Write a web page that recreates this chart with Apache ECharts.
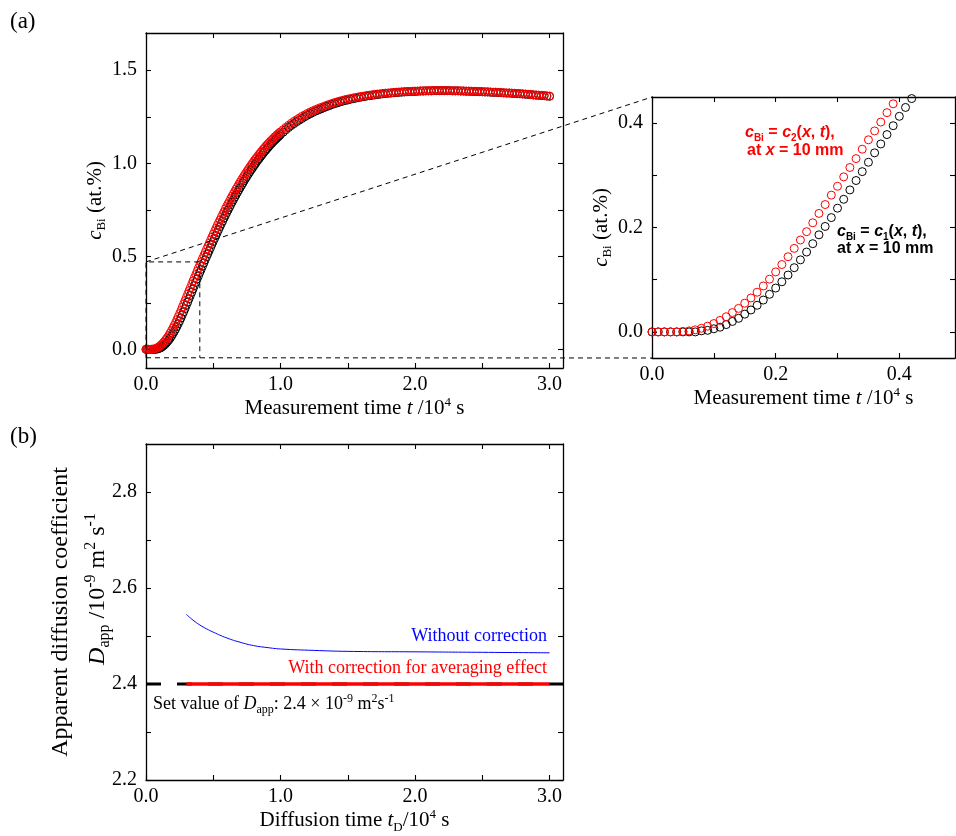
<!DOCTYPE html>
<html>
<head>
    <meta charset="UTF-8"/>
    <title>c_Bi and D_app</title>
    <script src="https://cdn.jsdelivr.net/npm/echarts@6.0.0/dist/echarts.min.js"></script>
    <style>
        html, body { margin: 0; padding: 0; background: #fff; }
        #chart { width: 956px; height: 836px; }
    </style>
</head>
<body>
<div id="chart"></div>
<script>
    // measurement time grid (10^4 s): 0.01 steps up to 1.0, then 0.02 steps
    function steps(a, b, d) {
        var out = [];
        for (var k = 0; a + k * d <= b + 1e-9; k++) out.push(+(a + k * d).toFixed(2));
        return out;
    }
    var tMeas = steps(0, 1.0, 0.01).concat(steps(1.02, 3.0, 0.02));

    // c_Bi = c2(x,t) at x = 10 mm (red circles)
    var c2 = [
        0, 0, 0, 0, 0, 0.001, 0.002, 0.004, 0.007, 0.011, 0.016,
        0.022, 0.029, 0.037, 0.045, 0.055, 0.065, 0.076, 0.088, 0.101, 0.115,
        0.129, 0.144, 0.160, 0.176, 0.192, 0.209, 0.227, 0.244, 0.262, 0.279,
        0.297, 0.315, 0.332, 0.350, 0.368, 0.385, 0.402, 0.420, 0.437, 0.454,
        0.471, 0.488, 0.504, 0.521, 0.538, 0.554, 0.570, 0.587, 0.603, 0.619,
        0.635, 0.650, 0.666, 0.681, 0.696, 0.711, 0.726, 0.740, 0.755, 0.769,
        0.783, 0.796, 0.810, 0.823, 0.836, 0.849, 0.862, 0.874, 0.887, 0.899,
        0.911, 0.922, 0.934, 0.945, 0.956, 0.967, 0.978, 0.988, 0.999, 1.009,
        1.019, 1.028, 1.038, 1.047, 1.056, 1.065, 1.074, 1.082, 1.091, 1.099,
        1.107, 1.114, 1.122, 1.129, 1.136, 1.143, 1.150, 1.156, 1.163, 1.169,
        1.181, 1.193, 1.204, 1.215, 1.225, 1.234, 1.243, 1.252, 1.260, 1.268,
        1.275, 1.282, 1.288, 1.294, 1.300, 1.305, 1.311, 1.316, 1.321, 1.326,
        1.330, 1.334, 1.338, 1.342, 1.345, 1.348, 1.351, 1.354, 1.357, 1.359,
        1.361, 1.364, 1.366, 1.368, 1.370, 1.372, 1.373, 1.375, 1.377, 1.378,
        1.379, 1.380, 1.382, 1.383, 1.384, 1.385, 1.386, 1.386, 1.387, 1.388,
        1.388, 1.389, 1.389, 1.390, 1.390, 1.390, 1.391, 1.391, 1.391, 1.391,
        1.391, 1.391, 1.390, 1.390, 1.390, 1.390, 1.389, 1.389, 1.388, 1.388,
        1.387, 1.387, 1.386, 1.386, 1.385, 1.384, 1.384, 1.383, 1.382, 1.382,
        1.381, 1.380, 1.379, 1.378, 1.378, 1.377, 1.376, 1.375, 1.374, 1.373,
        1.372, 1.371, 1.370, 1.368, 1.367, 1.366, 1.365, 1.364, 1.362, 1.361
    ];

    // c_Bi = c1(x,t) at x = 10 mm (black circles)
    var c1 = [
        0, 0, 0, 0, 0, 0, 0, 0, 0.002, 0.003, 0.006,
        0.009, 0.014, 0.020, 0.026, 0.034, 0.042, 0.051, 0.061, 0.072, 0.084,
        0.096, 0.109, 0.123, 0.138, 0.153, 0.169, 0.186, 0.202, 0.219, 0.237,
        0.254, 0.272, 0.290, 0.307, 0.325, 0.343, 0.360, 0.378, 0.395, 0.413,
        0.430, 0.447, 0.464, 0.481, 0.498, 0.514, 0.531, 0.547, 0.564, 0.580,
        0.596, 0.612, 0.628, 0.644, 0.660, 0.675, 0.690, 0.705, 0.720, 0.735,
        0.749, 0.763, 0.777, 0.791, 0.804, 0.818, 0.831, 0.844, 0.857, 0.869,
        0.882, 0.894, 0.906, 0.918, 0.929, 0.941, 0.952, 0.963, 0.973, 0.984,
        0.994, 1.005, 1.015, 1.024, 1.034, 1.043, 1.053, 1.062, 1.070, 1.079,
        1.087, 1.096, 1.104, 1.111, 1.119, 1.126, 1.133, 1.140, 1.147, 1.154,
        1.167, 1.180, 1.192, 1.203, 1.213, 1.223, 1.232, 1.241, 1.250, 1.258,
        1.266, 1.273, 1.280, 1.286, 1.292, 1.298, 1.304, 1.309, 1.315, 1.320,
        1.324, 1.329, 1.333, 1.337, 1.340, 1.344, 1.347, 1.350, 1.353, 1.356,
        1.358, 1.361, 1.363, 1.365, 1.367, 1.369, 1.371, 1.373, 1.375, 1.376,
        1.377, 1.379, 1.380, 1.381, 1.382, 1.383, 1.384, 1.385, 1.386, 1.386,
        1.387, 1.388, 1.388, 1.389, 1.389, 1.389, 1.390, 1.390, 1.390, 1.390,
        1.390, 1.390, 1.390, 1.389, 1.389, 1.389, 1.388, 1.388, 1.387, 1.387,
        1.386, 1.386, 1.385, 1.385, 1.384, 1.383, 1.383, 1.382, 1.381, 1.381,
        1.380, 1.379, 1.378, 1.377, 1.377, 1.376, 1.375, 1.374, 1.373, 1.372,
        1.371, 1.370, 1.369, 1.367, 1.366, 1.365, 1.364, 1.363, 1.361, 1.360
    ];

    // zoomed region marked in (a)
    var boxT = [0, 0, 0.4, 0.4];
    var boxC = [-0.045, 0.47, 0.47, -0.045];

    // (b) apparent diffusion coefficient
    var tSet = [0, 3.1];
    var dSet = [2.4, 2.4];
    var tCorr = [0.3, 3.0];
    var dCorr = [2.4, 2.4];
    var tRaw = [0.30, 0.35, 0.40, 0.45, 0.50, 0.60, 0.70, 0.80, 0.90, 1.00, 1.25, 1.50, 2.00, 2.50, 3.00];
    var dRaw = [2.545, 2.533, 2.523, 2.515, 2.508, 2.496, 2.487, 2.480, 2.476, 2.473, 2.470, 2.468, 2.467, 2.466, 2.465];

    // ticks and labels
    var xTicksA = [0, 0.5, 1.0, 1.5, 2.0, 2.5, 3.0];
    var xLabelsA = [0, 1.0, 2.0, 3.0];
    var yTicksA = [0, 0.25, 0.5, 0.75, 1.0, 1.25, 1.5];
    var yLabelsA = [0, 0.5, 1.0, 1.5];
    var xTicksIn = [0, 0.1, 0.2, 0.3, 0.4];
    var xLabelsIn = [0, 0.2, 0.4];
    var yTicksIn = [0, 0.1, 0.2, 0.3, 0.4];
    var yLabelsIn = [0, 0.2, 0.4];
    var yTicksB = [2.2, 2.3, 2.4, 2.5, 2.6, 2.7, 2.8];
    var yLabelsB = [2.2, 2.4, 2.6, 2.8];

    var SERIF = 'Liberation Serif';
    var SANS = 'Liberation Sans';

    function zip(a, b) {
        return a.map(function (v, i) { return [v, b[i]]; });
    }

    // rich styles for sub / superscripts
    function rich(size, color, family, weight, ratio) {
        var L = Math.round(size * 1.25);
        var s = Math.round(size * (ratio || 0.64));
        var base = {fontFamily: family, fontWeight: weight, color: color, fill: color};
        function m(o) { return Object.assign({}, base, o); }
        return {
            n: m({fontSize: size, lineHeight: L}),
            i: m({fontSize: size, lineHeight: L, fontStyle: 'italic'}),
            sub: m({fontSize: s, lineHeight: s + 1, verticalAlign: 'bottom'}),
            sup: m({fontSize: s, lineHeight: s + 1, verticalAlign: 'top'})
        };
    }

    function xAxis(grid, min, max, ticks, labels, top, name, gap) {
        return {
            type: 'value', gridIndex: grid, min: min, max: max,
            position: top ? 'top' : 'bottom',
            axisLine: {onZero: false, lineStyle: {color: '#000', width: 1.3}},
            axisTick: {inside: true, length: 5, customValues: ticks, lineStyle: {color: '#000', width: 1.1}},
            axisLabel: {
                show: !top, customValues: labels, margin: 7,
                fontFamily: SERIF, fontSize: 20, color: '#000',
                formatter: function (v) { return v.toFixed(1); }
            },
            splitLine: {show: false},
            name: top ? '' : name, nameLocation: 'middle', nameGap: gap,
            nameTextStyle: {rich: rich(21, '#000', SERIF, 'normal')}
        };
    }

    function yAxis(grid, min, max, ticks, labels, right, name, gap) {
        return {
            type: 'value', gridIndex: grid, min: min, max: max,
            position: right ? 'right' : 'left',
            axisLine: {onZero: false, lineStyle: {color: '#000', width: 1.3}},
            axisTick: {inside: true, length: 5, customValues: ticks, lineStyle: {color: '#000', width: 1.1}},
            axisLabel: {
                show: !right, customValues: labels, margin: 9,
                fontFamily: SERIF, fontSize: 20, color: '#000',
                formatter: function (v) { return v.toFixed(1); }
            },
            splitLine: {show: false},
            name: right ? '' : name, nameLocation: 'middle', nameGap: gap,
            nameTextStyle: {rich: rich(21, '#000', SERIF, 'normal')}
        };
    }

    function circles(xi, t, c, color, size, z) {
        return {
            type: 'scatter', xAxisIndex: xi, yAxisIndex: xi, clip: true, z: z,
            data: zip(t, c), symbol: 'circle', symbolSize: size,
            itemStyle: {color: 'rgba(0,0,0,0)', borderColor: color, borderWidth: 1, opacity: 1}
        };
    }

    var titleT = '{n|Measurement time }{i|t}{n| /10}{sup|4}{n| s}';
    var titleC = '{i|c}{sub|Bi}{n| (at.%)}';

    var chart = echarts.init(document.getElementById('chart'), null, {renderer: 'canvas'});

    var option = {
        animation: false,
        backgroundColor: '#fff',
        textStyle: {fontFamily: SERIF},
        grid: [
            {left: 146, top: 33, width: 417, height: 335},
            {left: 652, top: 97, width: 303, height: 261},
            {left: 146, top: 444, width: 417, height: 336}
        ],
        xAxis: [
            xAxis(0, 0, 3.1, xTicksA, xLabelsA, false, titleT, 27),
            xAxis(0, 0, 3.1, xTicksA, xLabelsA, true),
            xAxis(1, 0, 0.49, xTicksIn, xLabelsIn, false, titleT, 23),
            xAxis(1, 0, 0.49, xTicksIn, xLabelsIn, true),
            xAxis(2, 0, 3.1, xTicksA, xLabelsA, false, '{n|Diffusion time }{i|t}{sub|D}{n|/10}{sup|4}{n| s}', 27),
            xAxis(2, 0, 3.1, xTicksA, xLabelsA, true)
        ],
        yAxis: [
            yAxis(0, -0.1, 1.7, yTicksA, yLabelsA, false, titleC, 34),
            yAxis(0, -0.1, 1.7, yTicksA, yLabelsA, true),
            yAxis(1, -0.05, 0.45, yTicksIn, yLabelsIn, false, titleC, 33),
            yAxis(1, -0.05, 0.45, yTicksIn, yLabelsIn, true),
            yAxis(2, 2.2, 2.9, yTicksB, yLabelsB, false, ''),
            yAxis(2, 2.2, 2.9, yTicksB, yLabelsB, true)
        ],
        series: [
            circles(0, tMeas, c1, '#000', 8, 2),
            circles(0, tMeas, c2, '#ff0000', 8, 3),
            circles(2, tMeas, c1, '#000', 8, 2),
            circles(2, tMeas, c2, '#ff0000', 8, 3),
            {
                type: 'line', xAxisIndex: 0, yAxisIndex: 0, data: zip(boxT, boxC),
                symbol: 'none', lineStyle: {color: '#000', width: 1, type: [5, 4]}, z: 5
            },
            {
                type: 'line', xAxisIndex: 4, yAxisIndex: 4, data: zip(tSet, dSet), z: 2,
                symbol: 'none', lineStyle: {color: '#000', width: 2.8, type: [15, 16]}
            },
            {
                type: 'line', xAxisIndex: 4, yAxisIndex: 4, data: zip(tCorr, dCorr), z: 4,
                symbol: 'none', lineStyle: {color: '#ff0000', width: 3.4}
            },
            {
                type: 'line', xAxisIndex: 4, yAxisIndex: 4, data: zip(tRaw, dRaw), smooth: true, z: 4,
                symbol: 'none', lineStyle: {color: '#0000ff', width: 1}
            }
        ]
    };
    chart.setOption(option);

    // dashed connectors from the marked box in (a) to the enlarged panel
    var a1 = chart.convertToPixel({xAxisIndex: 0, yAxisIndex: 0}, [boxT[1], boxC[1]]);
    var a0 = chart.convertToPixel({xAxisIndex: 0, yAxisIndex: 0}, [boxT[0], boxC[0]]);
    var b1 = chart.convertToPixel({xAxisIndex: 2, yAxisIndex: 2}, [0, 0.45]);
    var b0 = chart.convertToPixel({xAxisIndex: 2, yAxisIndex: 2}, [0, -0.05]);

    function text(x, y, str, size, color, family, weight, align, rot, ratio) {
        return {
            type: 'text', x: x, y: y, rotation: rot || 0, silent: true,
            style: {
                text: str, fill: color, fontFamily: family, fontSize: size, fontWeight: weight,
                align: align || 'left', verticalAlign: 'middle',
                rich: rich(size, color, family, weight, ratio)
            }
        };
    }

    chart.setOption({
        graphic: [
            {
                type: 'line', silent: true, z: 10,
                shape: {x1: a1[0], y1: a1[1], x2: b1[0], y2: b1[1]},
                style: {stroke: '#000', lineWidth: 1, lineDash: [5, 4]}
            },
            {
                type: 'line', silent: true, z: 10,
                shape: {x1: a0[0], y1: a0[1], x2: b0[0], y2: b0[1]},
                style: {stroke: '#000', lineWidth: 1, lineDash: [5, 4]}
            },
            text(10, 22, '{n|(a)}', 23, '#000', SERIF, 'normal'),
            text(10, 437, '{n|(b)}', 23, '#000', SERIF, 'normal'),
            text(745, 133, '{i|c}{sub|Bi}{n| = }{i|c}{sub|2}{n|(}{i|x}{n|, }{i|t}{n|),}', 16, '#ff0000', SANS, 'bold'),
            text(747, 151, '{n|at }{i|x}{n| = 10 mm}', 16, '#ff0000', SANS, 'bold'),
            text(837, 232, '{i|c}{sub|Bi}{n| = }{i|c}{sub|1}{n|(}{i|x}{n|, }{i|t}{n|),}', 16, '#000', SANS, 'bold'),
            text(837, 249, '{n|at }{i|x}{n| = 10 mm}', 16, '#000', SANS, 'bold'),
            text(547, 636, '{n|Without correction}', 18, '#0000ff', SERIF, 'normal', 'right'),
            text(547, 668, '{n|With correction for averaging effect}', 18, '#ff0000', SERIF, 'normal', 'right'),
            text(153, 704, '{n|Set value of }{i|D}{sub|app}{n|: 2.4 × 10}{sup|-9}{n| m}{sup|2}{n|s}{sup|-1}', 18, '#000', SERIF, 'normal'),
            text(61, 612, '{n|Apparent diffusion coefficient}', 24, '#000', SERIF, 'normal', 'center', Math.PI / 2),
            text(98, 589, '{i|D}{sub|app}{n| /10}{sup|-9}{n| m}{sup|2}{n| s}{sup|-1}', 24, '#000', SERIF, 'normal', 'center', Math.PI / 2, 0.66)
        ]
    });
</script>
</body>
</html>
